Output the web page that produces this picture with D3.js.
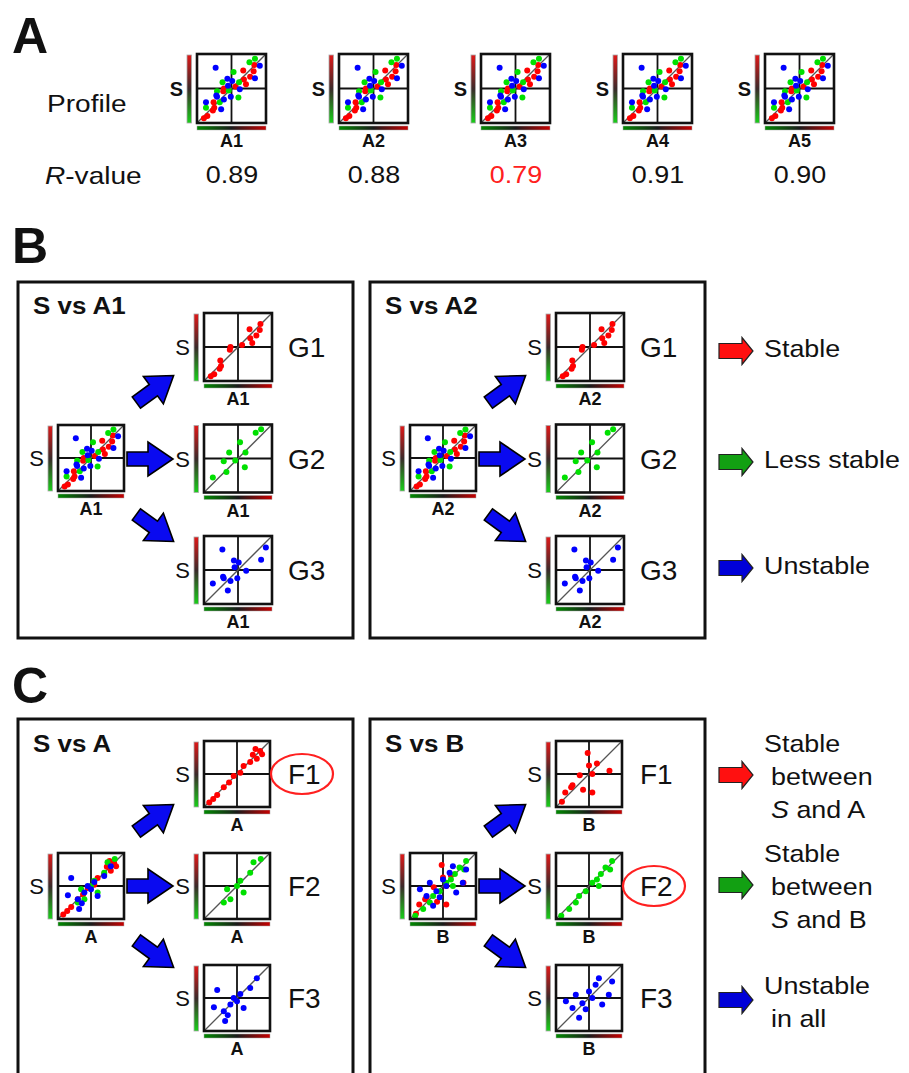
<!DOCTYPE html>
<html>
<head>
<meta charset="utf-8">
<script src="https://cdn.jsdelivr.net/npm/d3@7"></script>
<style>
body { margin: 0; background: #fff; }
</style>
</head>
<body>
<script>
// ---- data ----
var profileLabels = ['A1', 'A2', 'A3', 'A4', 'A5']
var rValues = [0.89, 0.88, 0.79, 0.91, 0.90]

// points as [x, y] in 0..1 (y up)
var redStable = [[0.10, 0.07], [0.15, 0.10], [0.23, 0.18], [0.25, 0.22], [0.24, 0.30], [0.38, 0.46], [0.39, 0.50],
  [0.56, 0.53], [0.68, 0.63], [0.67, 0.76], [0.77, 0.67], [0.82, 0.75], [0.83, 0.84], [0.71, 0.56]]
var greenLess = [[0.13, 0.22], [0.33, 0.30], [0.29, 0.46], [0.37, 0.59], [0.53, 0.74], [0.61, 0.59], [0.60, 0.37],
  [0.46, 0.47], [0.76, 0.88], [0.84, 0.93]]
var blueUnstable = [[0.27, 0.80], [0.13, 0.30], [0.29, 0.38], [0.39, 0.34], [0.35, 0.20], [0.44, 0.64], [0.51, 0.61],
  [0.45, 0.54], [0.49, 0.38], [0.62, 0.49], [0.84, 0.65], [0.91, 0.83], [0.28, 0.40]]

var cRedA = [[0.08, 0.07], [0.14, 0.12], [0.20, 0.18], [0.30, 0.30], [0.38, 0.37], [0.45, 0.47], [0.55, 0.52],
  [0.60, 0.62], [0.70, 0.68], [0.74, 0.79], [0.80, 0.73], [0.85, 0.85], [0.88, 0.80], [0.78, 0.88]]
var cGreenA = [[0.35, 0.45], [0.40, 0.30], [0.50, 0.50], [0.55, 0.58], [0.70, 0.70], [0.75, 0.86], [0.86, 0.91],
  [0.30, 0.25], [0.60, 0.40]]
var cBlueA = [[0.20, 0.62], [0.30, 0.30], [0.36, 0.24], [0.40, 0.40], [0.45, 0.50], [0.50, 0.45], [0.55, 0.56],
  [0.60, 0.35], [0.70, 0.65], [0.80, 0.80], [0.32, 0.15], [0.15, 0.36]]
var cRedB = [[0.09, 0.08], [0.14, 0.22], [0.23, 0.30], [0.25, 0.33], [0.36, 0.48], [0.41, 0.26], [0.55, 0.22],
  [0.55, 0.50], [0.50, 0.63], [0.81, 0.55], [0.48, 0.82], [0.62, 0.66]]
var cGreenB = [[0.08, 0.05], [0.20, 0.15], [0.30, 0.25], [0.35, 0.35], [0.45, 0.42], [0.55, 0.55], [0.62, 0.60],
  [0.68, 0.68], [0.65, 0.50], [0.75, 0.78], [0.82, 0.75], [0.85, 0.88]]
var cBlueB = [[0.15, 0.45], [0.25, 0.35], [0.30, 0.55], [0.40, 0.42], [0.45, 0.33], [0.50, 0.60], [0.55, 0.50],
  [0.60, 0.70], [0.70, 0.40], [0.80, 0.55], [0.85, 0.75], [0.35, 0.20], [0.65, 0.80]]

var bTitles = ['S vs A1', 'S vs A2']
var bAxis = ['A1', 'A2']
var gLabels = ['G1', 'G2', 'G3']
var bLegend = ['Stable', 'Less stable', 'Unstable']

var cTitles = ['S vs A', 'S vs B']
var cAxis = ['A', 'B']
var fLabels = ['F1', 'F2', 'F3']
var circled = [0, 1]
var cLegend = [['Stable', 'between', '*S* and A'], ['Stable', 'between', '*S* and B'], ['Unstable', 'in all']]

// ---- setup ----
var FONT = '"Liberation Sans", Arial, sans-serif'
var RED = '#ff0000', GREEN = '#00e000', BLUE = '#0000ff'

var svg = d3.select('body').append('svg')
  .attr('width', 909)
  .attr('height', 1073)

var defs = svg.append('defs')
var vg = defs.append('linearGradient').attr('id', 'vbar')
  .attr('x1', 0).attr('y1', 0).attr('x2', 0).attr('y2', 1)
vg.append('stop').attr('offset', 0).attr('stop-color', '#e01818')
vg.append('stop').attr('offset', 0.5).attr('stop-color', '#3a2a2a')
vg.append('stop').attr('offset', 1).attr('stop-color', '#18d018')
var hg = defs.append('linearGradient').attr('id', 'hbar')
  .attr('x1', 0).attr('y1', 0).attr('x2', 1).attr('y2', 0)
hg.append('stop').attr('offset', 0).attr('stop-color', '#008a00')
hg.append('stop').attr('offset', 0.5).attr('stop-color', '#1a1a1a')
hg.append('stop').attr('offset', 1).attr('stop-color', '#c80000')

// text helper; '*x*' marks italic pieces
function txt(parent, x, y, s, o) {
  o = o || {}
  var t = parent.append('text')
    .attr('transform', 'translate(' + x + ',' + y + ') scale(' + (o.sx || 1) + ',1)')
    .attr('text-anchor', o.anchor || 'start')
    .attr('fill', o.fill || '#111')
    .style('font-family', FONT)
    .style('font-size', (o.size || 24) + 'px')
    .style('font-weight', o.bold ? 'bold' : 'normal')
  s.split(/(\*[^*]+\*)/).forEach(function (p) {
    if (!p) return
    var it = p.charAt(0) == '*'
    t.append('tspan').style('font-style', it ? 'italic' : 'normal').text(it ? p.slice(1, -1) : p)
  })
  return t
}

// block arrow pointing right, centred at 0,0
function arrowPath(len, shaft, head, headLen) {
  var x0 = -len / 2, x1 = len / 2 - headLen, x2 = len / 2
  return 'M' + x0 + ',' + (-shaft / 2) + 'L' + x1 + ',' + (-shaft / 2) + 'L' + x1 + ',' + (-head / 2) +
    'L' + x2 + ',0L' + x1 + ',' + (head / 2) + 'L' + x1 + ',' + (shaft / 2) + 'L' + x0 + ',' + (shaft / 2) + 'Z'
}

function bigArrow(parent, cx, cy, angle) {
  parent.append('path')
    .attr('d', arrowPath(46, 14, 34, 25))
    .attr('transform', 'translate(' + cx + ',' + cy + ') rotate(' + angle + ')')
    .attr('fill', '#0a0af0')
    .attr('stroke', '#000')
    .attr('stroke-width', 1.6)
}

function legendArrow(parent, cx, cy, color) {
  parent.append('path')
    .attr('d', arrowPath(34, 15, 27, 11))
    .attr('transform', 'translate(' + cx + ',' + cy + ')')
    .attr('fill', color)
    .attr('stroke', '#222')
    .attr('stroke-width', 1.2)
}

// small scatter profile
function drawMini(parent, bx, by, size, sets, opt) {
  var g = parent.append('g').attr('transform', 'translate(' + bx + ',' + by + ')')
  var x = d3.scaleLinear().domain([0, 1]).range([0, size])
  var y = d3.scaleLinear().domain([0, 1]).range([size, 0])

  // colour bars
  g.append('rect')
    .attr('x', -10).attr('y', 1).attr('width', 4.5).attr('height', size - 1)
    .attr('fill', 'url(#vbar)').attr('stroke', '#aaa').attr('stroke-width', 0.8)
  g.append('rect')
    .attr('x', 0).attr('y', size + 3).attr('width', size).attr('height', 4)
    .attr('fill', 'url(#hbar)').attr('stroke', '#aaa').attr('stroke-width', 0.5)

  // quadrant lines
  g.append('line').attr('x1', x(0.5)).attr('y1', y(0)).attr('x2', x(0.5)).attr('y2', y(1))
    .attr('stroke', '#111').attr('stroke-width', 1.8)
  g.append('line').attr('x1', x(0)).attr('y1', y(0.5)).attr('x2', x(1)).attr('y2', y(0.5))
    .attr('stroke', '#111').attr('stroke-width', 1.8)

  // diagonal
  g.append('line').attr('x1', x(0)).attr('y1', y(0)).attr('x2', x(1)).attr('y2', y(1))
    .attr('stroke', '#555').attr('stroke-width', 1.3)

  // points
  sets.forEach(function (s) {
    g.selectAll(null).data(s.pts).enter().append('circle')
      .attr('cx', function (d) { return x(d[0]) })
      .attr('cy', function (d) { return y(d[1]) })
      .attr('r', 3)
      .attr('fill', s.color)
  })

  // box
  g.append('rect').attr('width', size).attr('height', size)
    .attr('fill', 'none').attr('stroke', '#111').attr('stroke-width', 2.6)

  // labels
  txt(g, -14, size / 2 + (opt.bold ? 7 : 8), 'S', { anchor: 'end', size: opt.sSize, bold: opt.bold })
  txt(g, size / 2, size + 24, opt.label, { anchor: 'middle', size: 18, bold: true })
}

var profileSets = [
  { pts: redStable, color: RED },
  { pts: greenLess, color: GREEN },
  { pts: blueUnstable, color: BLUE }
]

// ---- panel A ----
txt(svg, 12, 53, 'A', { size: 50, bold: true })
txt(svg, 47, 112, 'Profile', { size: 24, sx: 1.17 })
txt(svg, 45, 184, '*R*-value', { size: 24, sx: 1.17 })

var rMin = d3.min(rValues)
profileLabels.forEach(function (lab, i) {
  var bx = 197 + i * 142
  drawMini(svg, bx, 54, 69, profileSets, { label: lab, sSize: 20, bold: true })
  txt(svg, bx + 35, 183, rValues[i].toFixed(2), {
    anchor: 'middle', size: 23, sx: 1.17, fill: rValues[i] == rMin ? '#ff2020' : '#111'
  })
})

// ---- panel B ----
txt(svg, 12, 263, 'B', { size: 50, bold: true })
var bGroups = [redStable, greenLess, blueUnstable]
var groupColors = [RED, GREEN, BLUE]

bTitles.forEach(function (title, j) {
  var ox = j * 352
  svg.append('rect').attr('x', 18 + ox).attr('y', 282).attr('width', 335).attr('height', 356)
    .attr('fill', 'none').attr('stroke', '#111').attr('stroke-width', 3)
  txt(svg, 33 + ox, 314, title, { size: 24, bold: true, sx: 1.08 })

  drawMini(svg, 58 + ox, 425, 66, profileSets, { label: bAxis[j], sSize: 22 })

  bigArrow(svg, 155 + ox, 389, -36)
  bigArrow(svg, 150 + ox, 459, 0)
  bigArrow(svg, 155 + ox, 528, 36)

  gLabels.forEach(function (gl, k) {
    var by = 313 + k * 111.5
    drawMini(svg, 204 + ox, by, 68, [{ pts: bGroups[k], color: groupColors[k] }], { label: bAxis[j], sSize: 22 })
    txt(svg, 288 + ox, by + 44, gl, { size: 28 })
  })
})

var legendColors = ['#ff1010', '#12a012', '#0000d8']
bLegend.forEach(function (lab, k) {
  var cy = [351, 462, 568][k]
  legendArrow(svg, 736, cy, legendColors[k])
  txt(svg, 764, cy + 6, lab, { size: 24, sx: 1.12 })
})

// ---- panel C ----
txt(svg, 12, 703, 'C', { size: 50, bold: true })
var cGroups = [[cRedA, cGreenA, cBlueA], [cRedB, cGreenB, cBlueB]]

cTitles.forEach(function (title, j) {
  var ox = j * 352
  svg.append('rect').attr('x', 18 + ox).attr('y', 719).attr('width', 335).attr('height', 420)
    .attr('fill', 'none').attr('stroke', '#111').attr('stroke-width', 3)
  txt(svg, 33 + ox, 752, title, { size: 24, bold: true, sx: 1.08 })

  var sets = cGroups[j].map(function (p, k) { return { pts: p, color: groupColors[k] } })
  drawMini(svg, 58 + ox, 853, 66, sets, { label: cAxis[j], sSize: 22 })

  bigArrow(svg, 155 + ox, 818, -36)
  bigArrow(svg, 150 + ox, 886, 0)
  bigArrow(svg, 155 + ox, 954, 36)

  fLabels.forEach(function (fl, k) {
    var by = 741 + k * 112
    drawMini(svg, 204 + ox, by, 66, [sets[k]], { label: cAxis[j], sSize: 22 })
    txt(svg, 288 + ox, by + 43, fl, { size: 28 })
    if (circled[j] == k) {
      svg.append('ellipse').attr('cx', 302 + ox).attr('cy', by + 33)
        .attr('rx', 31).attr('ry', 20)
        .attr('fill', 'none').attr('stroke', '#ff2020').attr('stroke-width', 2.2)
    }
  })
})

cLegend.forEach(function (lines, k) {
  var cy = [775, 885, 1000][k]
  legendArrow(svg, 736, cy, legendColors[k])
  lines.forEach(function (ln, i) {
    var yy = cy + 10 + (i - (lines.length - 1) / 2) * 33
    txt(svg, i == 0 ? 764 : 771, yy, ln, { size: 24, sx: 1.12 })
  })
})
</script>
</body>
</html>
